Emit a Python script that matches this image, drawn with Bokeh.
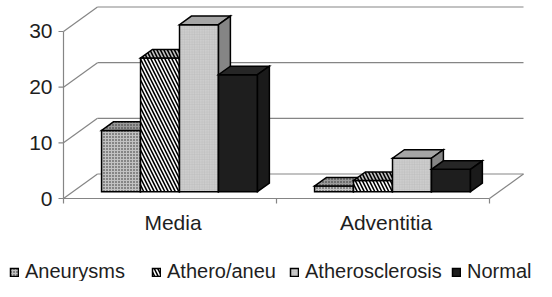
from bokeh.plotting import figure
from bokeh.models import Range1d, Legend, LegendItem
from bokeh.core.properties import value
from bokeh.embed import file_html
from bokeh.resources import INLINE

# ---------------- data ----------------
categories = ["Media", "Adventitia"]
series_names = ["Aneurysms", "Athero/aneu", "Atherosclerosis", "Normal"]
aneurysms = [11, 1]
athero_aneu = [24, 2]
atherosclerosis = [30, 6]
normal = [21, 4]
y_ticks = [0, 10, 20, 30]
y_tick_labels = ["0", "10", "20", "30"]

values = [aneurysms, athero_aneu, atherosclerosis, normal]

# ---------------- layout constants (pixels) ----------------
W, H = 536, 281
PX_X = 213.0            # pixels per category on the front plane
PX_Y = 5.567            # pixels per value unit
ORIGIN = (63, 198)      # canvas px of the front-left-bottom corner
DEPTH_PX = (34.0, 24.5) # depth of the 3-D box
GROUP = 0.732           # fraction of a category used by the bars
F0 = 0.28               # depth fraction where bar fronts sit
FD = 0.35               # bar depth fraction
TICK_PX = 5
FONT = "Liberation Sans"
GRID = "#858585"
TXT = "#1e1e1e"

DX = DEPTH_PX[0] / PX_X
DY = DEPTH_PX[1] / PX_Y
ncat = len(categories)
top_val = y_ticks[-1]

p = figure(width=W, height=H,
           x_range=Range1d(-ORIGIN[0] / PX_X, (W - ORIGIN[0]) / PX_X),
           y_range=Range1d(-(H - ORIGIN[1]) / PX_Y, ORIGIN[1] / PX_Y),
           x_axis_location=None, y_axis_location=None,
           min_border=0, output_backend="svg", toolbar_location=None)
p.outline_line_color = None
p.grid.visible = False
p.background_fill_color = "white"
p.border_fill_color = "white"

# ---------------- walls / gridlines / axes lines ----------------
gx0, gy0, gx1, gy1 = [], [], [], []
for t in y_ticks:
    gx0.append(0); gy0.append(t); gx1.append(DX); gy1.append(t + DY)                 # side wall
    gx0.append(DX); gy0.append(t + DY); gx1.append(ncat + DX); gy1.append(t + DY)    # back wall
gx0 += [0, ncat, 0]; gy0 += [0, 0, 0]
gx1 += [ncat, ncat + DX, 0]; gy1 += [0, DY, top_val]
# tick marks
tk_x = TICK_PX / PX_X
tk_y = TICK_PX / PX_Y
for t in y_ticks:
    gx0.append(-tk_x); gy0.append(t); gx1.append(0); gy1.append(t)
for c in range(ncat + 1):
    gx0.append(c); gy0.append(0); gx1.append(c); gy1.append(-tk_y)
p.segment(gx0, gy0, gx1, gy1, line_color=GRID, line_width=1.2)

# tick labels and category labels
p.text(x=[0] * len(y_ticks), y=y_ticks, text=y_tick_labels,
       x_offset=-(TICK_PX + 6), text_align="right", text_baseline="middle",
       text_font=value(FONT), text_font_size=value("21px"), text_color=TXT)
p.text(x=[c + 0.5 for c in range(ncat)], y=[0] * ncat, text=categories,
       x_offset=3, y_offset=12, text_align="center", text_baseline="top",
       text_font=value(FONT), text_font_size=value("21px"), text_color=TXT)

# ---------------- bar styles ----------------
OUT = dict(line_color="black", line_width=1.5, line_join="miter")
DOTS = dict(hatch_pattern="dot", hatch_color="#2a2a2a", hatch_scale=3, hatch_weight=1.2)
DIAG = dict(hatch_pattern="left_diagonal_line", hatch_color="black", hatch_scale=7, hatch_weight=1.6)
styles = [
    dict(front=dict(fill_color="#c2c2c2", **DOTS),
         top=dict(fill_color="#9a9a9a", **DOTS),
         side=dict(fill_color="#858585", **DOTS)),
    dict(front=dict(fill_color="white", **DIAG),
         top=dict(fill_color="#c4c4c4", **DIAG),
         side=dict(fill_color="#909090", **DIAG)),
    dict(front=dict(fill_color="#cdcdcd", hatch_pattern="cross", hatch_color="#bdbdbd", hatch_scale=2.5, hatch_weight=0.6),
         top=dict(fill_color="#a6a6a6"),
         side=dict(fill_color="#858585")),
    dict(front=dict(fill_color="#1e1e1e"),
         top=dict(fill_color="#262626"),
         side=dict(fill_color="#1a1a1a")),
]

n = len(series_names)
bw = GROUP / n
front_renderers = []
for i, vals in enumerate(values):
    fx, fy, tx, ty, sx, sy = [], [], [], [], [], []
    for c, v in enumerate(vals):
        x0 = c + (1 - GROUP) / 2 + i * bw + F0 * DX
        x1 = x0 + bw
        y0 = F0 * DY
        y1 = y0 + v
        ddx, ddy = FD * DX, FD * DY
        fx.append([x0, x1, x1, x0]); fy.append([y0, y0, y1, y1])
        tx.append([x0, x1, x1 + ddx, x0 + ddx]); ty.append([y1, y1, y1 + ddy, y1 + ddy])
        sx.append([x1, x1 + ddx, x1 + ddx, x1]); sy.append([y0, y0 + ddy, y1 + ddy, y1])
    r = p.patches(fx, fy, **styles[i]["front"], **OUT)
    p.patches(tx, ty, **styles[i]["top"], **OUT)
    p.patches(sx, sy, **styles[i]["side"], **OUT)
    front_renderers.append(r)

# ---------------- legend ----------------
leg_x = [9, 151, 289, 451]
leg_y = -2
for i, name in enumerate(series_names):
    leg = Legend(items=[LegendItem(label=name, renderers=[front_renderers[i]])],
                 location=(leg_x[i], leg_y), orientation="horizontal",
                 glyph_width=10, glyph_height=10, label_standoff=6,
                 padding=0, margin=0, spacing=0,
                 border_line_color=None, background_fill_alpha=0,
                 label_text_font=FONT, label_text_font_size="20px",
                 label_text_color=TXT)
    p.add_layout(leg)

open("out.html", "w").write(file_html(p, INLINE))
